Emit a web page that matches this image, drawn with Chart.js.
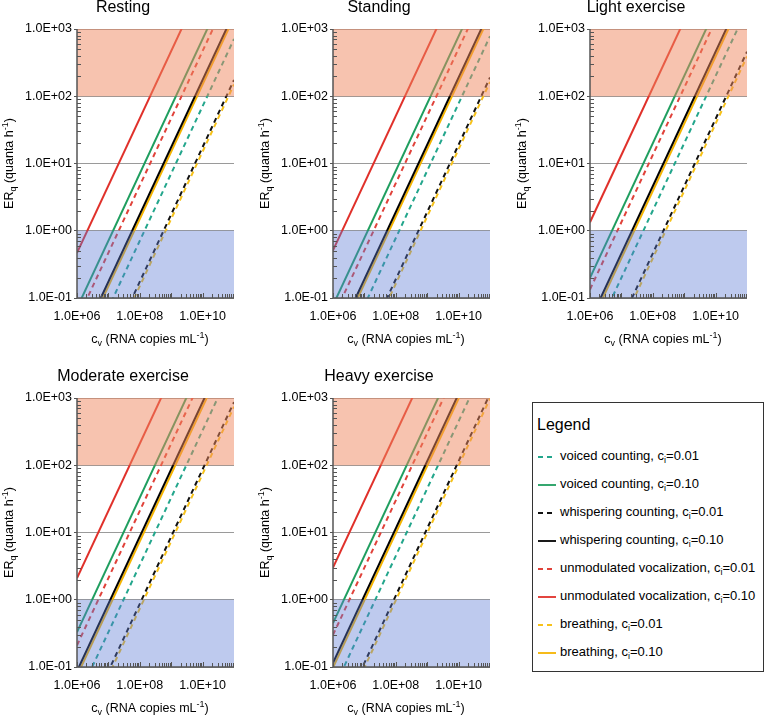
<!DOCTYPE html>
<html>
<head>
<meta charset="utf-8">
<script src="https://cdn.jsdelivr.net/npm/chart.js@4.4.1/dist/chart.umd.min.js"></script>
<style>
  body { margin: 0; width: 765px; height: 715px; overflow: hidden; background: #fff; position: relative;
         font-family: "Liberation Sans", Arial, sans-serif; }
  .panel { position: absolute; }
  #legend { position: absolute; left: 532px; top: 402px; width: 232px; height: 270px; box-sizing: border-box;
            border: 1px solid #333; }
  #legend .lt { position: absolute; left: 4px; top: 13px; font-size: 16px; }
  #legend .it { position: absolute; left: 5px; height: 16px; font-size: 13px; line-height: 16px; white-space: nowrap; }
  #legend .it svg { vertical-align: middle; margin-right: 4px; }
  #legend sub { font-size: 9px; vertical-align: -3px; line-height: 0; }
</style>
</head>
<body>
<div class="panel" style="left:0px;top:0px"><canvas id="p0" width="245" height="346"></canvas></div>
<div class="panel" style="left:256px;top:0px"><canvas id="p1" width="245" height="346"></canvas></div>
<div class="panel" style="left:513px;top:0px"><canvas id="p2" width="245" height="346"></canvas></div>
<div class="panel" style="left:0px;top:369px"><canvas id="p3" width="245" height="346"></canvas></div>
<div class="panel" style="left:256px;top:369px"><canvas id="p4" width="245" height="346"></canvas></div>
<div id="legend"><div class="lt">Legend</div></div>

<script>
// series, in legend order
const seriesNames = ['voiced counting', 'voiced counting', 'whispering counting', 'whispering counting',
  'unmodulated vocalization', 'unmodulated vocalization', 'breathing', 'breathing'];
const seriesCi = ['0.01', '0.10', '0.01', '0.10', '0.01', '0.10', '0.01', '0.10'];
const seriesColors = ['#23a68c', '#1f9e5f', '#111111', '#000000', '#e0423a', '#e0302a', '#f7c21a', '#f5b400'];
const seriesDashed = [true, false, true, false, true, false, true, false];

const panelTitles = ['Resting', 'Standing', 'Light exercise', 'Moderate exercise', 'Heavy exercise'];

// c_v range of every line (RNA copies mL-1)
const cvRange = [1e6, 1e11];

// ER_q (quanta h-1) at c_v = 1e6 and at c_v = 1e11, one value per series
const restingAt1e6 = [0.0071, 0.071, 0.00175, 0.0175, 0.047, 0.47, 0.0015, 0.015];
const restingAt1e11 = [710, 7100, 175, 1750, 4700, 47000, 150, 1500];
const standingAt1e6 = [0.0078, 0.078, 0.0019, 0.019, 0.051, 0.51, 0.00163, 0.0163];
const standingAt1e11 = [780, 7800, 190, 1900, 5100, 51000, 163, 1630];
const lightAt1e6 = [0.020, 0.20, 0.0046, 0.046, 0.134, 1.34, 0.0039, 0.039];
const lightAt1e11 = [2000, 20000, 460, 4600, 13400, 134000, 390, 3900];
const moderateAt1e6 = [0.033, 0.33, 0.0087, 0.087, 0.21, 2.1, 0.0074, 0.074];
const moderateAt1e11 = [3300, 33000, 870, 8700, 21000, 210000, 740, 7400];
const heavyAt1e6 = [0.045, 0.45, 0.0115, 0.115, 0.30, 3.0, 0.0098, 0.098];
const heavyAt1e11 = [4500, 45000, 1150, 11500, 30000, 300000, 980, 9800];

const xTicks = [1e6, 1e8, 1e10];
const yTicks = [0.1, 1, 10, 100, 1000];
const highBand = [100, 1000];
const lowBand = [0.1, 1];

const FONT = '"Liberation Sans", Arial, sans-serif';
Chart.defaults.font.family = FONT;

function sciLabel(v) {
  const e = Math.round(Math.log10(v));
  return '1.0E' + (e < 0 ? '-' : '+') + String(Math.abs(e)).padStart(2, '0');
}

// text with sub/superscripts
function richText(ctx, parts, x, y, angle, size) {
  ctx.save();
  ctx.translate(x, y);
  ctx.rotate(angle);
  const fontOf = p => (p.sub || p.sup ? Math.round(size * 0.68) : size) + 'px ' + FONT;
  let w = 0;
  parts.forEach(p => { ctx.font = fontOf(p); w += ctx.measureText(p.t).width; });
  let cx = -w / 2;
  ctx.textBaseline = 'middle';
  ctx.fillStyle = '#000';
  parts.forEach(p => {
    ctx.font = fontOf(p);
    const dy = p.sub ? size * 0.3 : (p.sup ? -size * 0.35 : 0);
    ctx.fillText(p.t, cx, dy);
    cx += ctx.measureText(p.t).width;
  });
  ctx.restore();
}

const bandsPlugin = {
  id: 'bands',
  afterDatasetsDraw(chart) {
    const { ctx, chartArea: a, scales: { y } } = chart;
    ctx.save();
    [[highBand, 'rgba(239,135,95,0.5)'], [lowBand, 'rgba(92,122,212,0.4)']].forEach(([b, col]) => {
      const top = y.getPixelForValue(b[1]);
      const bot = y.getPixelForValue(b[0]);
      ctx.fillStyle = col;
      ctx.fillRect(a.left, top, a.right - a.left, bot - top);
    });
    ctx.restore();
  }
};

const decorPlugin = {
  id: 'decor',
  afterDraw(chart, args, opts) {
    const { ctx, chartArea: a, scales: { x, y } } = chart;
    ctx.save();
    ctx.strokeStyle = '#555';
    ctx.lineWidth = 1;
    ctx.beginPath();
    // minor ticks, inside
    for (let k = -1; k < 3; k++) {
      for (let m = 2; m < 10; m++) {
        const py = Math.round(y.getPixelForValue(m * Math.pow(10, k))) + 0.5;
        ctx.moveTo(a.left, py); ctx.lineTo(a.left + 4, py);
      }
    }
    for (let k = 6; k < 11; k++) {
      for (let m = 1; m < 10; m++) {
        const px = Math.round(x.getPixelForValue(m * Math.pow(10, k))) + 0.5;
        ctx.moveTo(px, a.bottom); ctx.lineTo(px, a.bottom - (m === 1 ? 5 : 4));
      }
    }
    ctx.stroke();
    // axis lines
    ctx.strokeStyle = '#555';
    ctx.lineWidth = 1.5;
    ctx.beginPath();
    ctx.moveTo(a.left, a.top); ctx.lineTo(a.left, a.bottom); ctx.lineTo(a.right, a.bottom);
    ctx.stroke();
    ctx.restore();

    ctx.save();
    ctx.font = '16px ' + FONT;
    ctx.fillStyle = '#000';
    ctx.textAlign = 'center';
    ctx.textBaseline = 'middle';
    ctx.fillText(opts.title, a.left + 46, 8);
    ctx.restore();

    richText(ctx, [{ t: 'c' }, { t: 'v', sub: true }, { t: ' (RNA copies mL' }, { t: '-1', sup: true }, { t: ')' }],
      a.left + 73, 340, 0, 12.5);
    richText(ctx, [{ t: 'ER' }, { t: 'q', sub: true }, { t: ' (quanta h' }, { t: '-1', sup: true }, { t: ')' }],
      a.left - 67, (a.top + a.bottom) / 2, -Math.PI / 2, 12.5);
  }
};

function makePanel(id, title, low, high) {
  const datasets = seriesNames.map((name, i) => ({
    label: name + ', ci=' + seriesCi[i],
    data: [{ x: cvRange[0], y: low[i] }, { x: cvRange[1], y: high[i] }],
    borderColor: seriesColors[i],
    borderWidth: 2,
    borderDash: seriesDashed[i] ? [5, 4] : [],
    pointRadius: 0,
    fill: false,
    tension: 0
  }));
  new Chart(document.getElementById(id), {
    type: 'line',
    data: { datasets },
    options: {
      responsive: false,
      animation: false,
      layout: { padding: { left: 0, top: 29, right: 11, bottom: 0 } },
      plugins: { legend: { display: false }, tooltip: { enabled: false }, decor: { title } },
      scales: {
        x: {
          type: 'logarithmic', min: cvRange[0], max: cvRange[1],
          afterBuildTicks: s => { s.ticks = xTicks.map(v => ({ value: v })); },
          afterFit: s => { s.height = 48; },
          grid: { display: false, tickLength: 4 },
          border: { display: false },
          ticks: { callback: v => sciLabel(v), color: '#000', font: { size: 12.5 }, padding: 7, maxRotation: 0, autoSkip: false }
        },
        y: {
          type: 'logarithmic', min: yTicks[0], max: yTicks[yTicks.length - 1],
          afterBuildTicks: s => { s.ticks = yTicks.map(v => ({ value: v })); },
          afterFit: s => { s.width = 77; },
          grid: { color: '#9a9a9a', lineWidth: 1, tickLength: 3, tickColor: '#555' },
          border: { display: false },
          ticks: { callback: v => sciLabel(v), color: '#000', font: { size: 12.5 }, padding: 2, autoSkip: false }
        }
      }
    },
    plugins: [bandsPlugin, decorPlugin]
  });
}

makePanel('p0', panelTitles[0], restingAt1e6, restingAt1e11);
makePanel('p1', panelTitles[1], standingAt1e6, standingAt1e11);
makePanel('p2', panelTitles[2], lightAt1e6, lightAt1e11);
makePanel('p3', panelTitles[3], moderateAt1e6, moderateAt1e11);
makePanel('p4', panelTitles[4], heavyAt1e6, heavyAt1e11);

// legend
const legend = document.getElementById('legend');
seriesNames.forEach((name, i) => {
  const it = document.createElement('div');
  it.className = 'it';
  it.style.top = (45 + i * 28) + 'px';
  const dash = seriesDashed[i] ? ' stroke-dasharray="5,4"' : '';
  it.innerHTML = '<svg width="18" height="4"><line x1="0" y1="2" x2="18" y2="2" stroke="' + seriesColors[i] +
    '" stroke-width="1.8"' + dash + '/></svg>' + name + ', c<sub>i</sub>=' + seriesCi[i];
  legend.appendChild(it);
});
</script>
</body>
</html>
